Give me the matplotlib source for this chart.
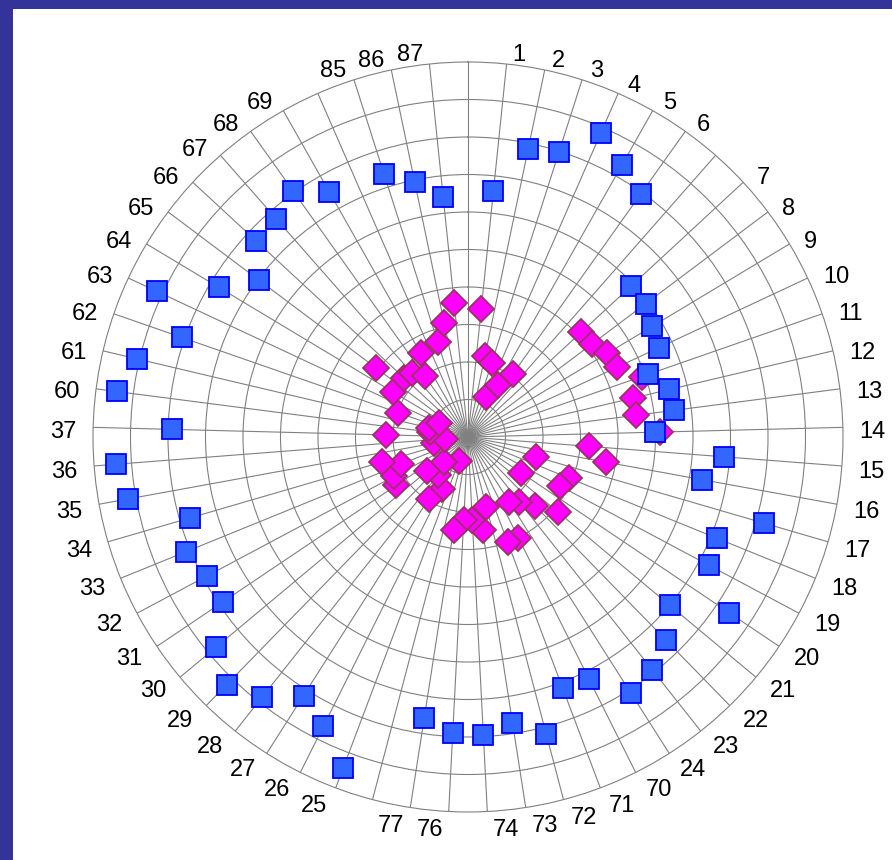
import matplotlib.pyplot as plt
import numpy as np
from matplotlib.patches import Rectangle

# category labels clockwise from the top (blank spokes carry no data)
categories = ['', '1', '2', '3', '4', '5', '6', '',
              '7', '8', '9', '10', '11', '12', '13', '14', '15', '16', '17', '18',
              '19', '20', '21', '22', '23', '24',
              '70', '71', '72', '73', '74', '76', '77', '',
              '25', '26', '27', '28', '29', '30', '31', '32', '33', '34', '35', '36', '37',
              '60', '61', '62', '63', '64', '65', '66', '67', '68', '69', '',
              '85', '86', '87']

nan = np.nan

# outer series (blue squares)
series_a = [nan, 65.9, 78.4, 79.7, 88.5, 83.2, 79.5, nan,
            59.2, 59.2, 57.3, 56.3, 50.9, 55.2, 55.5, 49.9, 68.5, 63.5, 82.1, 71.7,
            72.8, 84.0, 70.1, 75.7, 79.2, 80.8,
            72.0, 71.5, 81.9, 77.1, 79.5, 79.0, 75.8, nan,
            94.4, 86.2, 81.7, 88.5, 92.2, 87.4, 78.7, 79.0, 81.2, 77.2, 92.1, 94.1, 79.0,
            94.5, 90.8, 80.8, 91.6, 77.6, 69.8, 77.0, 77.5, 80.6, 75.0, nan,
            73.5, 69.6, 64.4]

# inner series (magenta diamonds)
series_b = [nan, 34.3, 22.2, 20.7, 11.7, 16.0, 20.5, nan,
            41.1, 41.5, 43.3, 44.0, 49.1, 45.2, 45.3, 51.2, 32.4, 37.3, 18.9, 29.2,
            27.7, 17.1, 31.4, 25.7, 22.0, 20.5,
            30.1, 29.9, 19.3, 25.2, 22.1, 22.1, 25.1, nan,
            6.9, 15.6, 19.6, 12.8, 9.3, 14.1, 23.1, 22.3, 19.3, 23.9, 9.2, 6.1, 21.9,
            10.1, 10.7, 19.8, 8.6, 23.3, 30.7, 23.2, 22.7, 19.8, 25.6, nan,
            26.7, 31.1, 35.9]

n = len(categories)
theta = np.arange(n) * 2 * np.pi / n

fig = plt.figure(figsize=(8.92, 8.60), dpi=100, facecolor='#333399')
fig.add_artist(Rectangle((13 / 892, 0), 1, 851 / 860, transform=fig.transFigure,
                         facecolor='white', edgecolor='none', zorder=0))

ax = fig.add_axes([93 / 892, 48 / 860, 750 / 892, 750 / 860], projection='polar')
ax.set_theta_zero_location('N')
ax.set_theta_direction(-1)
ax.set_ylim(0, 100)
ax.set_yticks(range(10, 100, 10))
ax.set_yticklabels([])
ax.set_xticks(theta)
ax.set_xticklabels([])
ax.tick_params(length=0)
ax.grid(True, color='#808080', linewidth=0.8)
ax.spines['polar'].set_color('#808080')
ax.spines['polar'].set_linewidth(0.8)

ax.plot(theta, series_b, linestyle='none', marker='D', markersize=13.2,
        markerfacecolor='#ff00ff', markeredgecolor='#993366', markeredgewidth=1.3,
        zorder=3, clip_on=False)
ax.plot(theta, series_a, linestyle='none', marker='s', markersize=15,
        markerfacecolor='#3366ff', markeredgecolor='#0000ff', markeredgewidth=1.3,
        zorder=4, clip_on=False)

# category labels just outside the outer ring
for t, lab in zip(theta, categories):
    if not lab:
        continue
    s, c = np.sin(t), np.cos(t)
    dx = np.sign(s) * (4.5 + 12 * abs(s))
    dy = 14 * c - 5
    ax.annotate(lab, xy=(t, 100), xytext=(dx, dy), textcoords='offset pixels',
                ha='left' if s > 0 else 'right', va='center',
                fontsize=17, family='Liberation Sans', color='black')

fig.savefig('out.png', dpi=100, facecolor=fig.get_facecolor())
